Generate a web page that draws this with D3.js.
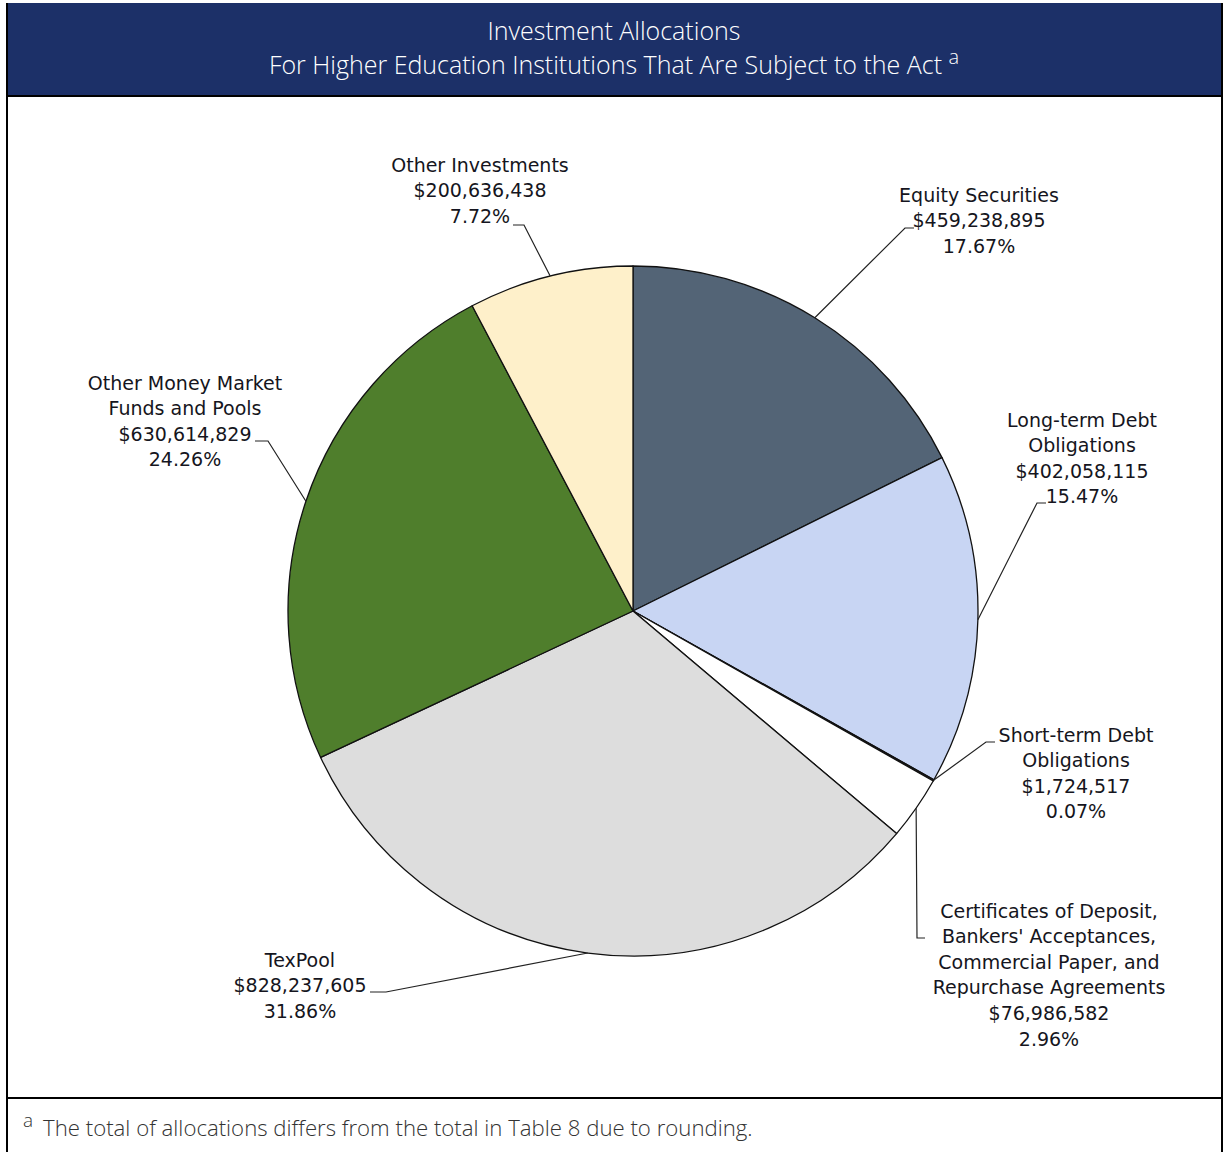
<!DOCTYPE html>
<html>
<head>
<meta charset="utf-8">
<script src="https://cdn.jsdelivr.net/npm/d3@7"></script>
<style>
  html, body { margin: 0; padding: 0; background: #fff; }
  svg { display: block; }
</style>
</head>
<body>
<svg id="chart" width="1229" height="1152"></svg>
<script>
// ---------- data ----------
const categories = [
  "Equity Securities",
  "Long-term Debt Obligations",
  "Short-term Debt Obligations",
  "Certificates of Deposit, Bankers' Acceptances, Commercial Paper, and Repurchase Agreements",
  "TexPool",
  "Other Money Market Funds and Pools",
  "Other Investments"
];
const values = [459238895, 402058115, 1724517, 76986582, 828237605, 630614829, 200636438];
const percentLabels = ["17.67%", "15.47%", "0.07%", "2.96%", "31.86%", "24.26%", "7.72%"];
const labelLines = [
  ["Equity Securities"],
  ["Long-term Debt", "Obligations"],
  ["Short-term Debt", "Obligations"],
  ["Certificates of Deposit,", "Bankers' Acceptances,", "Commercial Paper, and", "Repurchase Agreements"],
  ["TexPool"],
  ["Other Money Market", "Funds and Pools"],
  ["Other Investments"]
];
const titleLines = ["Investment Allocations", "For Higher Education Institutions That Are Subject to the Act"];
const footnote = "The total of allocations differs from the total in Table 8 due to rounding.";

// ---------- styling / layout ----------
const colors = ["#536476", "#c8d5f3", "#2a2f3a", "#ffffff", "#dddddd", "#4f7e2c", "#fef0ca"];
// label layout: text centre x, first line centre y, knee point, text-side end of the tick
const labelLayout = [
  {x: 979,  y: 195, knee: [905, 228], tick: [914, 228]},
  {x: 1082, y: 420, knee: [1037, 503], tick: [1046, 503]},
  {x: 1076, y: 735, knee: [986, 742], tick: [995, 742]},
  {x: 1049, y: 911, knee: [917, 938], tick: [925, 938]},
  {x: 300,  y: 960, knee: [386, 992], tick: [370, 992]},
  {x: 185,  y: 383, knee: [268, 441], tick: [255, 441]},
  {x: 480,  y: 165, knee: [524, 225], tick: [513, 225]}
];
const lineH = 25.6;

const W = 1229, H = 1152;
const cx = 633, cy = 611, R = 345;

const svg = d3.select("#chart");

// frame
svg.append("rect").attr("x", 0).attr("y", 0).attr("width", W).attr("height", H).attr("fill", "#fff");
svg.append("rect").attr("x", 7).attr("y", 3).attr("width", 1215).attr("height", 93).attr("fill", "#1c3068");
svg.append("line").attr("x1", 7).attr("x2", 1222).attr("y1", 96).attr("y2", 96).attr("stroke", "#000").attr("stroke-width", 2);
svg.append("line").attr("x1", 7).attr("x2", 7).attr("y1", 3).attr("y2", H).attr("stroke", "#000").attr("stroke-width", 2);
svg.append("line").attr("x1", 1222).attr("x2", 1222).attr("y1", 3).attr("y2", H).attr("stroke", "#000").attr("stroke-width", 2);
svg.append("line").attr("x1", 7).attr("x2", 1222).attr("y1", 1098).attr("y2", 1098).attr("stroke", "#000").attr("stroke-width", 2);

// title
const tFont = "'Open Sans', 'Liberation Sans', sans-serif";
svg.append("text").attr("x", 614).attr("y", 40).attr("text-anchor", "middle")
  .attr("font-family", tFont).attr("font-weight", 300).attr("font-size", 25).attr("fill", "#fff")
  .text(titleLines[0]);
const t2 = svg.append("text").attr("x", 614).attr("y", 74).attr("text-anchor", "middle")
  .attr("font-family", tFont).attr("font-weight", 300).attr("font-size", 25).attr("fill", "#fff");
t2.append("tspan").text(titleLines[1] + " ");
t2.append("tspan").attr("dy", -10).attr("font-size", 20).text("a");

// footnote
const fn = svg.append("text").attr("x", 23).attr("y", 1136)
  .attr("font-family", tFont).attr("font-weight", 300).attr("font-size", 22.2).attr("fill", "#333");
fn.append("tspan").attr("dy", -9).attr("font-size", 19).text("a");
fn.append("tspan").attr("dy", 9).attr("dx", 10).text(footnote);

// pie
const pie = d3.pie().sort(null).value(d => d);
const arcs = pie(values);
const arc = d3.arc().innerRadius(0).outerRadius(R);

const g = svg.append("g").attr("transform", `translate(${cx},${cy})`);
g.selectAll("path").data(arcs).enter().append("path")
  .attr("d", arc)
  .attr("fill", (d, i) => colors[i])
  .attr("stroke", "#111")
  .attr("stroke-width", 1.3)
  .attr("stroke-linejoin", "round");

// leaders & labels
const fmt = d3.format("$,");
const lFont = "'DejaVu Sans', Verdana, sans-serif";
arcs.forEach((a, i) => {
  const L = labelLayout[i];
  const mid = (a.startAngle + a.endAngle) / 2;
  const px = cx + R * Math.sin(mid), py = cy - R * Math.cos(mid);
  const pts = [[px, py], L.knee, L.tick];
  svg.append("path")
    .attr("d", d3.line()(pts))
    .attr("fill", "none").attr("stroke", "#222").attr("stroke-width", 1.2);

  const lines = labelLines[i].concat([fmt(values[i]), percentLabels[i]]);
  const txt = svg.append("text").attr("text-anchor", "middle")
    .attr("font-family", lFont).attr("font-size", 19).attr("fill", "#151520");
  lines.forEach((s, k) => {
    txt.append("tspan").attr("x", L.x).attr("y", L.y + k * lineH).attr("dy", "0.35em").text(s);
  });
});
</script>
</body>
</html>
